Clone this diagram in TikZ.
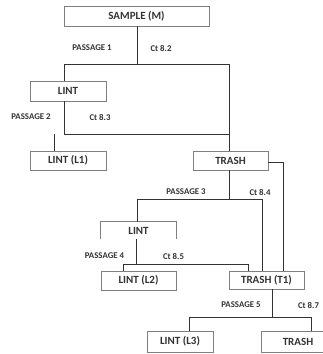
\documentclass[tikz,border=0pt]{standalone}
\usepackage{fontspec}
\setmainfont{Carlito}
\usetikzlibrary{calc,positioning}
\definecolor{ink}{HTML}{333333}
\definecolor{edge}{HTML}{808080}
\tikzset{
	stage/.style={draw=edge, line width=0.8pt, fill=white, text=ink, font=\bfseries\fontsize{11}{13}\selectfont, minimum height=19pt, inner sep=0pt},
	pass/.style={text=ink, font=\bfseries\fontsize{8.8}{10}\selectfont, inner sep=0pt},
	link/.style={draw=ink, line width=0.9pt}
}
\begin{document}
\begin{tikzpicture}[x=1pt,y=-1pt]
		\useasboundingbox (0,0) rectangle (323,354);
		
		\node[stage, minimum width=145pt, minimum height=20pt] (M) at (136.5,16) {SAMPLE (M)};
		\node[stage, minimum width=76pt, minimum height=20pt] (L) at (68,91) {LINT};
		\node[stage, minimum width=76pt] (L1) at (68,160.5) {LINT (L1)};
		\node[stage, minimum width=75pt] (T) at (230.5,160.5) {TRASH};
		\node[stage, draw=none, fill=none, minimum width=75pt, minimum height=17pt] (LB) at (138.5,230.5) {LINT};
		\node[stage, minimum width=75pt] (L2) at (138.5,280.5) {LINT (L2)};
		\node[stage, minimum width=75pt, minimum height=18pt] (T1) at (266.5,280) {TRASH (T1)};
		\node[stage, minimum width=66pt, minimum height=21pt] (L3) at (180,341.5) {LINT (L3)};
		\node[stage, minimum width=74pt, minimum height=21pt] (T2) at (298,341.5) {TRASH};
		
		% open box round the third lint
		\draw[edge, line width=0.8pt] (LB.south west) -- (LB.north west) -- (LB.north east) -- (LB.south east);
		
		\coordinate (a1) at (64,64);   \coordinate (b1) at (229,64);
		\coordinate (a2) at (64,134);  \coordinate (b2) at (229,134);
		\coordinate (a3) at (137,199); \coordinate (b3) at (262,199);
		\coordinate (a4) at (123,264); \coordinate (b4) at (248,264);
		\coordinate (a5) at (189,317); \coordinate (b5) at (311,317);
		\coordinate (k) at (283,162);
		
		\draw[link] (M.south -| 137,0) -- (137,64);
		\draw[link] (L.north -| a1) -- (a1) -- (b1) -- (T.north -| b1);
		\draw[link] (L.south -| a2) -- (a2) -- (b2);
		\draw[link] (L1.north -| 54,0) -- (54,134);
		\draw[link] (T.east |- k) -- (k) -- (T1.north -| k);
		\draw[link] (T.south -| b2) -- (229,199);
		\draw[link] (LB.north -| a3) -- (a3) -- (b3) -- (T1.north -| b3);
		\draw[link] (LB.south -| 136,0) -- (136,264);
		\draw[link] (L2.north -| a4) -- (a4) -- (b4) -- (T1.north -| b4);
		\draw[link] (T1.south -| 272,0) -- (272,317);
		\draw[link] (L3.north -| a5) -- (a5) -- (b5) -- (T2.north -| b5);
		
		\node[pass] (p1) at (92,48) {PASSAGE 1};
		\node[pass] (c1) at (161,48) {Ct 8.2};
		\node[pass] (p2) at (31,117) {PASSAGE 2};
		\node[pass] (c2) at (100,117) {Ct 8.3};
		\node[pass] (p3) at (186,192) {PASSAGE 3};
		\node[pass] (c3) at (260,192) {Ct 8.4};
		\node[pass] (p4) at (104.5,256) {PASSAGE 4};
		\node[pass] (c4) at (173.5,256) {Ct 8.5};
		\node[pass] (p5) at (241,305) {PASSAGE 5};
		\node[pass] (c5) at (308.5,305) {Ct 8.7};
	\end{tikzpicture}
\end{document}
